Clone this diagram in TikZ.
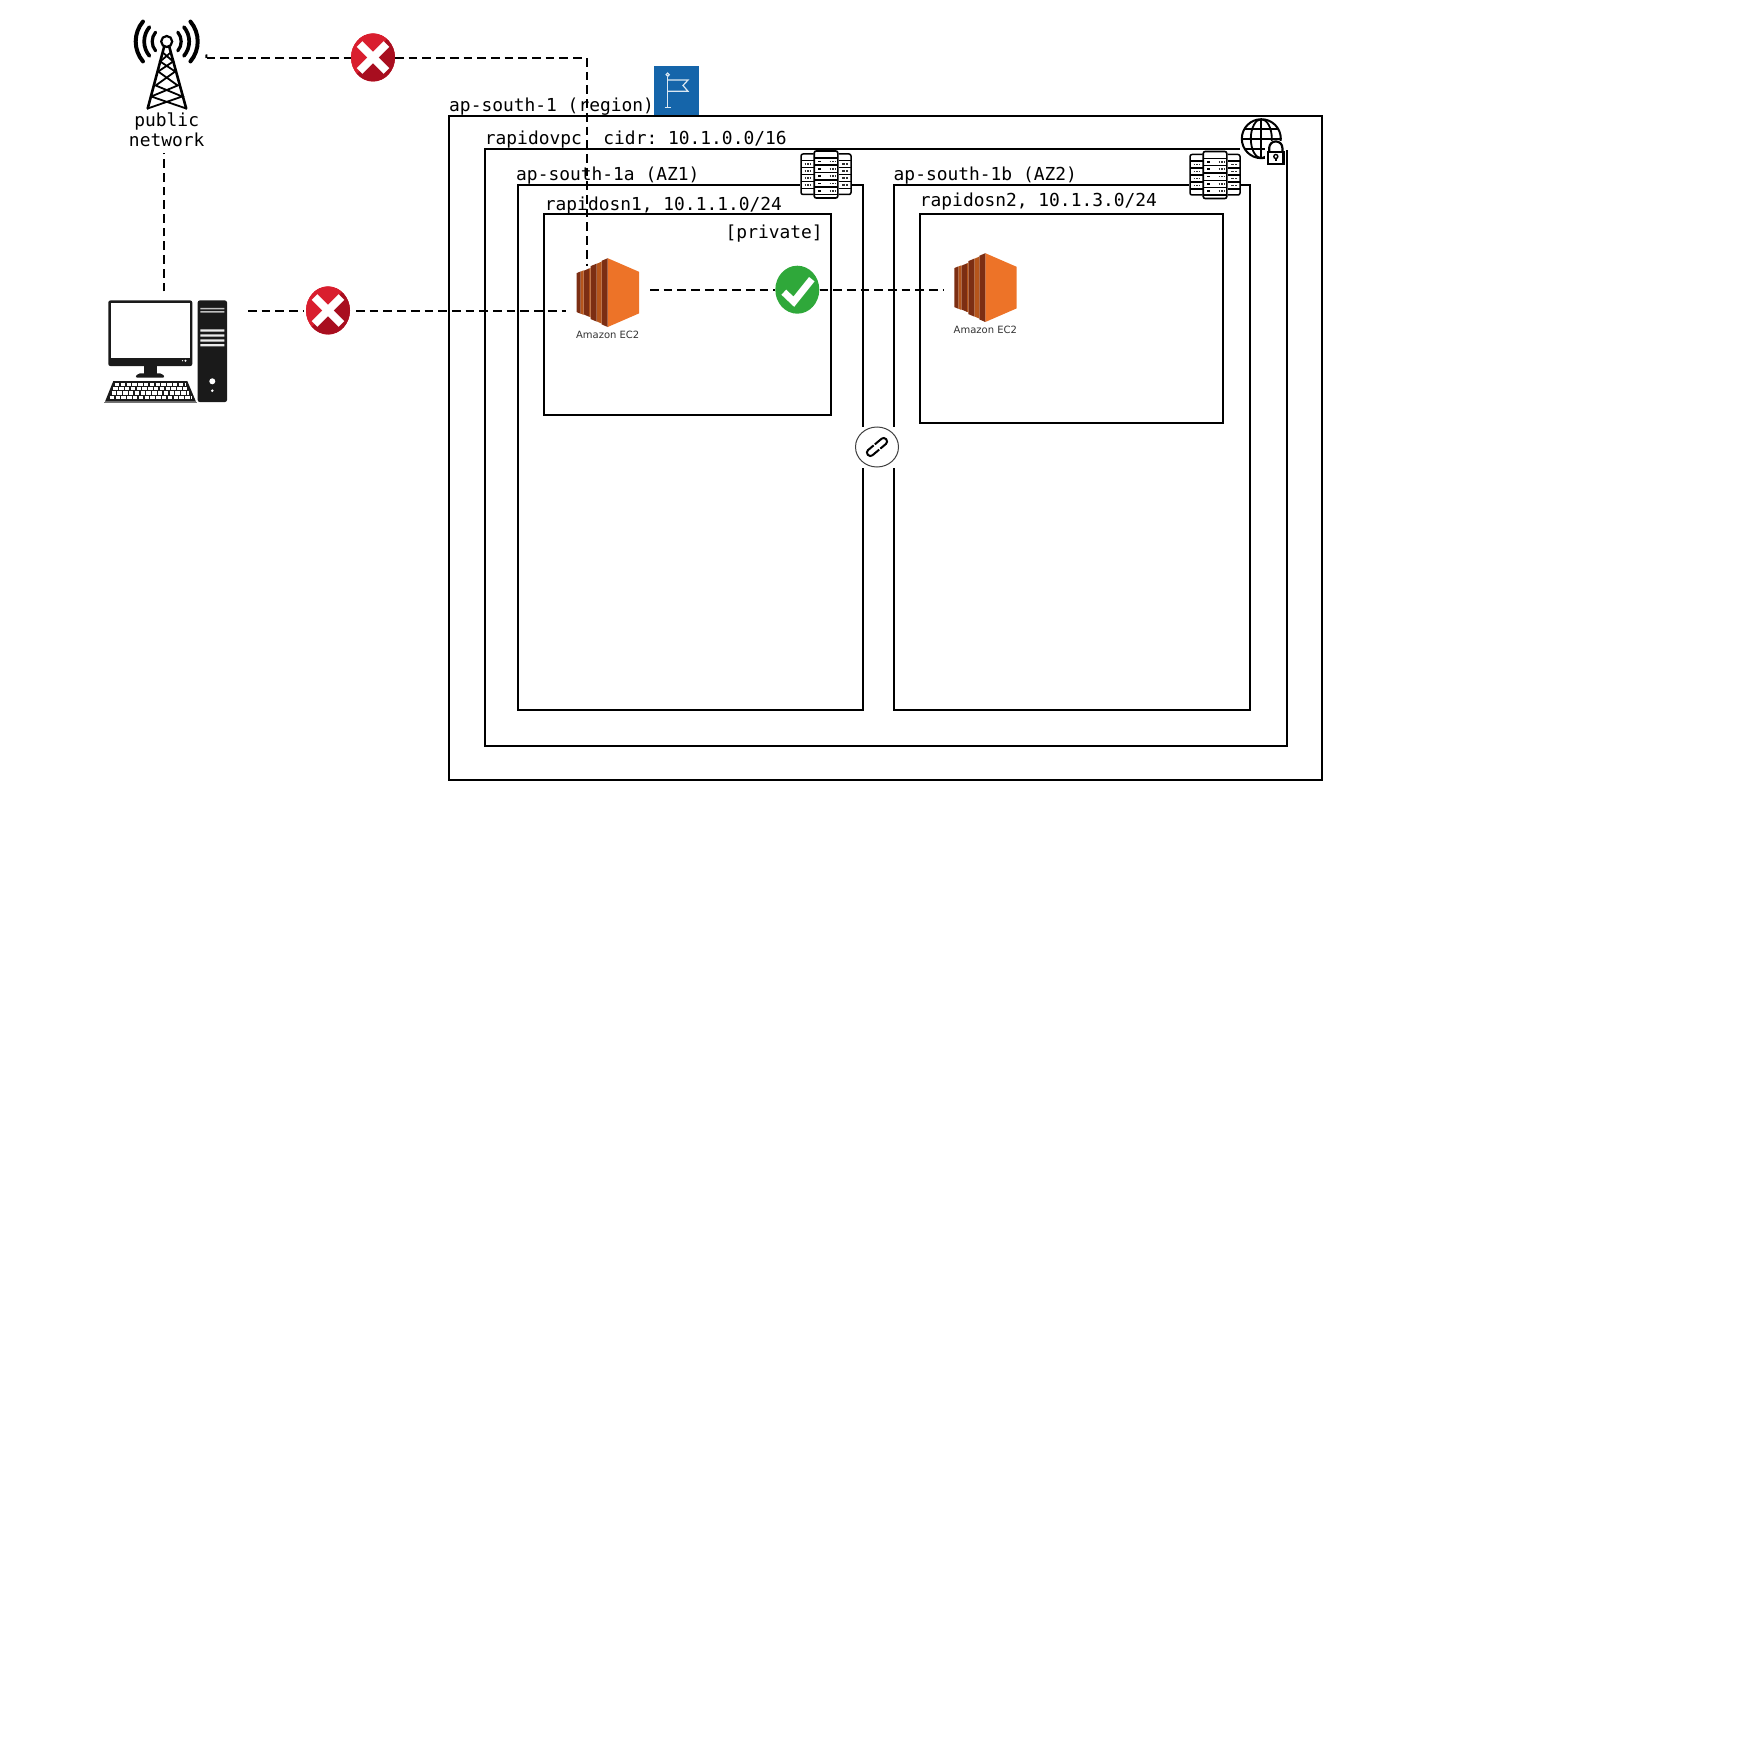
\documentclass[tikz,border=0pt]{standalone}
\usepackage{fontspec}
\setmonofont{DejaVu Sans Mono}
\setsansfont{DejaVu Sans}
\usetikzlibrary{shapes.geometric}
\definecolor{ecorange}{HTML}{ED7328}
\definecolor{ecdark}{HTML}{7C2E13}
\definecolor{ecmid}{HTML}{B5551B}
\definecolor{xred}{HTML}{D91E2E}
\definecolor{xdark}{HTML}{A80E1F}
\definecolor{okgreen}{HTML}{2FA83A}
\definecolor{flagblue}{HTML}{1565AA}
\definecolor{pcblack}{HTML}{1A1A1A}
\tikzset{
  zonebox/.style={draw=black,line width=2.2pt},
  label/.style={anchor=base west,inner sep=0pt,font=\ttfamily\fontsize{17.9}{21}\selectfont},
  dashline/.style={draw=black,line width=2pt,dash pattern=on 8.7pt off 5pt},
  xsign/.style={ellipse,fill=xred,inner sep=0pt,minimum width=44pt,minimum height=48pt},
  oksign/.style={ellipse,fill=okgreen,inner sep=0pt,minimum width=44pt,minimum height=48pt},
  ec2label/.style={anchor=center,inner sep=0pt,text=black!80,font=\sffamily\fontsize{10}{12}\selectfont},
  crossmark/.pic={
    \begin{scope}
      \clip (0,0) ellipse (22 and 24);
      \fill[xdark] (0,0) -- (15,-20) -- (30,-20) -- (30,30) -- (-30,30) -- (-30,16) -- (-14,14) -- cycle;
      \fill[xred] (-30,-30) rectangle (30,-18);
      \fill[xred] (-30,-30) -- (16,-30) -- (0,0) -- (-16,16) -- (-30,16) -- cycle;
    \end{scope}
    \fill[white,rotate=45] (-19,-4) rectangle (19,4);
    \fill[white,rotate=-45] (-19,-4) rectangle (19,4);
  },
  ec2icon/.pic={
    \fill[ecorange] (0,-34.4) -- (31.3,-20.8) -- (31.3,20.8) -- (0,34.4) -- cycle;
    \fill[ecdark] (-6,-31.8) -- (0,-34.4) -- (0,34.4) -- (-6,31.8) -- cycle;
    \fill[ecmid] (-11,-28.8) -- (-6,-31) -- (-6,31) -- (-11,28.8) -- cycle;
    \fill[ecdark] (-17,-26.5) -- (-11,-29) -- (-11,29) -- (-17,26.5) -- cycle;
    \fill[ecmid] (-18.5,-24) -- (-17,-24.8) -- (-17,24.8) -- (-18.5,24) -- cycle;
    \fill[ecdark] (-24,-21.8) -- (-18.5,-24.2) -- (-18.5,24.2) -- (-24,21.8) -- cycle;
    \fill[ecmid] (-27,-21) -- (-24,-22.3) -- (-24,22.3) -- (-27,21) -- cycle;
    \fill[ecdark] (-31,-19.5) -- (-27,-21.2) -- (-27,21.2) -- (-31,19.5) -- cycle;
  },
  servers/.pic={
    \fill[white] (-26,-24) rectangle (26,24);
    \foreach \sx in {-1,1}{
      \draw[black,line width=1.5pt,rounded corners=2pt] (\sx*12.5,-20.5) -- (\sx*25,-20.5) -- (\sx*25,20) -- (\sx*12.5,20);
      \foreach \ry in {-14,-7,0,7,14}
        \draw[black,line width=1.4pt] (\sx*12.5,\ry) -- (\sx*25,\ry);
      \foreach \ry in {-10.5,-3.5,3.5,10.5}
        \draw[black!80,line width=1.4pt,dash pattern=on 1.5pt off 1.2pt] (\sx*21.5,\ry) -- (\sx*15.5,\ry);
    }
    \draw[black,line width=1.6pt,fill=white,rounded corners=2pt] (-11.8,-23.5) rectangle (11.8,23.5);
    \foreach \ry in {-16.5,-9.3,-2,5.3,12.6,20}
      \draw[black,line width=1.5pt] (-11.8,\ry) -- (11.8,\ry);
    \foreach \ry in {-13,-5.7,1.6,9,16.3}{
      \fill[black] (-8,\ry-0.9) rectangle (-5,\ry+0.9);
      \draw[black!80,line width=1.7pt,dash pattern=on 1.5pt off 1.2pt] (3.5,\ry) -- (9,\ry);
    }
  }
}
\begin{document}
\begin{tikzpicture}[x=1pt,y=-1pt]
\useasboundingbox (0,0) rectangle (1752,1752);
% nested zones
\draw[zonebox] (449,116) rectangle (1322,780);
\draw[zonebox] (485,149) rectangle (1287,746);
\draw[zonebox] (518,185) rectangle (863,710);
\draw[zonebox] (894,185) rectangle (1250,710);
\draw[zonebox] (544,214) rectangle (831,415);
\draw[zonebox] (920,214) rectangle (1223,423);
% masks under icons
\fill[white] (1240,118) rectangle (1285,147.6);
\fill[white] (1240,146) rectangle (1288.2,150.3);
\fill[white] (858,427) rectangle (900,468);
% labels
\node[label] (tregion) at (449,112) {ap-south-1 (region)};
\node[label] (tvpc) at (484.7,145) {rapidovpc\ \ cidr: 10.1.0.0/16};
\node[label] (taz1) at (516,181) {ap-south-1a (AZ1)};
\node[label] (taz2) at (893.5,180.5) {ap-south-1b (AZ2)};
\node[label] (tsn1) at (544.7,211) {rapidosn1, 10.1.1.0/24};
\node[label] (tsn2) at (919.7,206.5) {rapidosn2, 10.1.3.0/24};
\node[label] (tpriv) at (725.5,239) {[private]};
\node[inner sep=0pt,anchor=center,align=center,font=\ttfamily\fontsize{17.9}{19.7}\selectfont] (tpublic) at (166.7,130) {public\\network};
% named nodes of the connectors
\node[xsign] (crossa) at (373,57.5) {};
\node[xsign] (crossb) at (328,310.5) {};
\node[oksign] (okc) at (797.3,289.7) {};
\coordinate (towerend) at (206.5,58);
\coordinate (corner) at (586.7,58);
\coordinate (ecatop) at (586.7,266);
\coordinate (ecaw) at (566,311);
\coordinate (crossbw) at (303,311);
\coordinate (crossbe) at (356,311);
\coordinate (ecae) at (650,289.7);
\coordinate (ecbw) at (944,289.7);
\coordinate (pce) at (248,311);
\coordinate (pctop) at (164,291.3);
\coordinate (netbot) at (164,153);
\coordinate (crossaw) at (351,58);
\coordinate (crossae) at (395,58);
% connectors
\draw[line width=2pt] (206.3,54.5) -- (towerend);
\draw[dashline] (towerend) -- (crossaw);
\draw[dashline] (crossae) -- (corner) -- (ecatop);
\draw[dashline] (pce) -- (crossbw);
\draw[dashline] (crossbe) -- (ecaw);
\draw[dashline] (ecae) -- (okc);
\draw[dashline] (okc) -- (ecbw);
\draw[dashline] (pctop) -- (netbot);
% signs
\pic at (crossa) {crossmark};
\pic at (crossb) {crossmark};
\draw[white,line width=7pt] ([shift={(-13.5,2.5)}]okc.center) -- ([shift={(-3.5,12)}]okc.center) -- ([shift={(14.5,-10.5)}]okc.center);
% ec2
\pic at (607.7,292.6) {ec2icon};
\node[ec2label] (eca) at (607.7,335) {Amazon EC2};
\pic at (985.3,287.6) {ec2icon};
\node[ec2label] (ecb) at (985.3,330) {Amazon EC2};
% servers
\pic at (826,174.5) {servers};
\pic at (1215,175) {servers};
% flag
\fill[flagblue] (654,66) rectangle (699,115);
\begin{scope}[white!85!flagblue,line width=1.2pt]
\draw (667.7,77) -- (667.7,107);
\draw (664.5,107.3) -- (671,107.3);
\draw (667.7,74.7) circle (1.6);
\draw (667.7,80) -- (688,80) -- (683,85.5) -- (688,91.3) -- (667.7,91.3);
\end{scope}
% globe with lock
\begin{scope}[shift={(1261.3,138.7)}]
\begin{scope}
\clip (0,0) circle (19.5);
\draw[line width=1.8pt] (0,0) ellipse (10.5 and 19.5);
\draw[line width=1.8pt] (-20,0) -- (20,0) (0,-20) -- (0,20) (-20,-10) -- (20,-10) (-20,10) -- (20,10);
\end{scope}
\draw[line width=2pt] (0,0) circle (19.5);
\end{scope}
\fill[white] (1265,141) rectangle (1286,166);
\draw[line width=2.2pt] (1269.2,152) -- (1269.2,148) arc[start angle=180,end angle=360,x radius=6.6,y radius=6.6] -- (1282.4,152);
\draw[line width=2.2pt,fill=white] (1268,152) rectangle (1283.5,164);
\draw[line width=1.4pt] (1275.8,156.5) circle (2);
\draw[line width=1.4pt] (1275.8,158.5) -- (1275.8,161.5);
% peering link
\node[draw=black!75,fill=white,ellipse,line width=1pt,inner sep=0pt,minimum width=43pt,minimum height=40pt] (peer) at (877,447) {};
\begin{scope}[shift={(877,447)},rotate=40]
\draw[line width=2pt,rounded corners=3.2pt] (-1.5,-3.4) -- (-12,-3.4) -- (-12,3.4) -- (0,3.4);
\draw[line width=2pt,rounded corners=3.2pt] (1.5,3.4) -- (12,3.4) -- (12,-3.4) -- (0,-3.4);
\end{scope}
% tower
\begin{scope}[shift={(166.7,41.5)}]
\draw[line width=2.2pt] (0,0) circle (5.5);
\foreach \r/\w in {31/4,22.5/3.7,14.5/3.2}{
  \draw[line width=\w pt,line cap=round] (180-40:\r) arc[start angle=180-40,end angle=180+40,radius=\r];
  \draw[line width=\w pt,line cap=round] (40:\r) arc[start angle=40,end angle=-40,radius=\r];
}
\draw[line width=2.6pt,line cap=round] (-2.5,5) -- (-19,67);
\draw[line width=2.6pt,line cap=round] (2.5,5) -- (19.5,67);
\draw[line width=1.8pt] (-4,11) -- (6.5,20) -- (-8.5,30) -- (11,44) -- (-15.5,55) (4,11) -- (-6.5,20) -- (8.5,30) -- (-11,44) -- (15.5,55) -- (-19,67) (-15.5,55) -- (19.5,67);
\end{scope}
% computer
\fill[pcblack,rounded corners=2pt] (108.3,300.5) rectangle (192.3,366);
\fill[white] (111,303) rectangle (190,357.7);
\fill[white] (182.5,360.7) circle (0.7) (185.5,360.7) circle (1.1);
\fill[pcblack] (144.3,365) rectangle (156.7,374);
\fill[pcblack,rounded corners=2pt] (135,377.5) -- (138,373.3) -- (162,373.3) -- (165,377.5) -- cycle;
\fill[pcblack] (113.3,381) -- (187.3,381) -- (196,401.7) -- (105,401.7) -- cycle;
\fill[black!55] (104,402) rectangle (196.5,403.2);
\foreach \yy/\xl/\xr in {384.2/115/185.6,388.6/113.3/187.5,393/111.5/189.4,397.4/109.7/191.3}
  \draw[white,line width=3.3pt,dash pattern=on 4.4pt off 1.4pt] (\xl,\yy) -- (\xr,\yy);
\fill[pcblack,rounded corners=2pt] (197.7,300.5) rectangle (227,402);
\fill[black!25] (200.3,308) rectangle (224.3,309.5) (200.3,311.2) rectangle (224.3,312.7);
\fill[black!8] (200.3,329.3) rectangle (224.3,331.7) (200.3,334.3) rectangle (224.3,336.7) (200.3,339.3) rectangle (224.3,341.7) (200.3,344) rectangle (224.3,346.3);
\fill[white] (212.3,381.3) circle (3) (212.3,390.7) circle (1.4);
\end{tikzpicture}
\end{document}
